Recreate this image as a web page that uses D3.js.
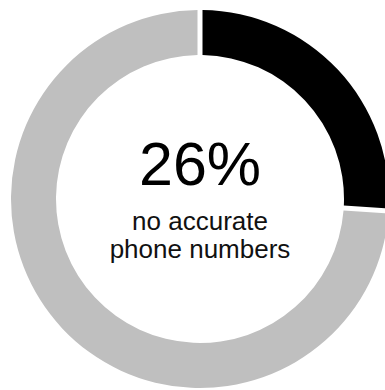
<!DOCTYPE html>
<html>
<head>
<meta charset="utf-8">
<script src="https://cdn.jsdelivr.net/npm/d3@7"></script>
<style>
html,body{margin:0;padding:0;background:#fff;overflow:hidden;}
svg{display:block;}
</style>
</head>
<body>
<svg id="chart" width="385" height="390"></svg>
<script>
const categories = ["no accurate phone numbers", "other"];
const values = [26, 74];
const colors = ["#000000", "#bfbfbf"];
const headline = "26%";
const labelLines = ["no accurate", "phone numbers"];

const svg = d3.select("#chart");
const cx = 200, cy = 199, outerR = 189, innerR = 144;

const pie = d3.pie().sort(null).value(d => d);
const arc = d3.arc().innerRadius(innerR).outerRadius(outerR)
  .padAngle(5 / outerR).padRadius(outerR);

const g = svg.append("g").attr("transform", `translate(${cx},${cy})`);
g.selectAll("path").data(pie(values)).join("path")
  .attr("d", arc)
  .attr("fill", (d, i) => colors[i]);

g.append("text")
  .attr("x", 0).attr("y", -14)
  .attr("text-anchor", "middle")
  .attr("font-family", "Liberation Sans, Arial, sans-serif")
  .attr("font-size", 61)
  .attr("fill", "#000")
  .text(headline);

g.selectAll("text.lbl").data(labelLines).join("text")
  .attr("class", "lbl")
  .attr("x", 0).attr("y", (d, i) => 31 + i * 28)
  .attr("text-anchor", "middle")
  .attr("font-family", "Liberation Sans, Arial, sans-serif")
  .attr("font-size", 26)
  .attr("fill", "#111")
  .text(d => d);
</script>
</body>
</html>
